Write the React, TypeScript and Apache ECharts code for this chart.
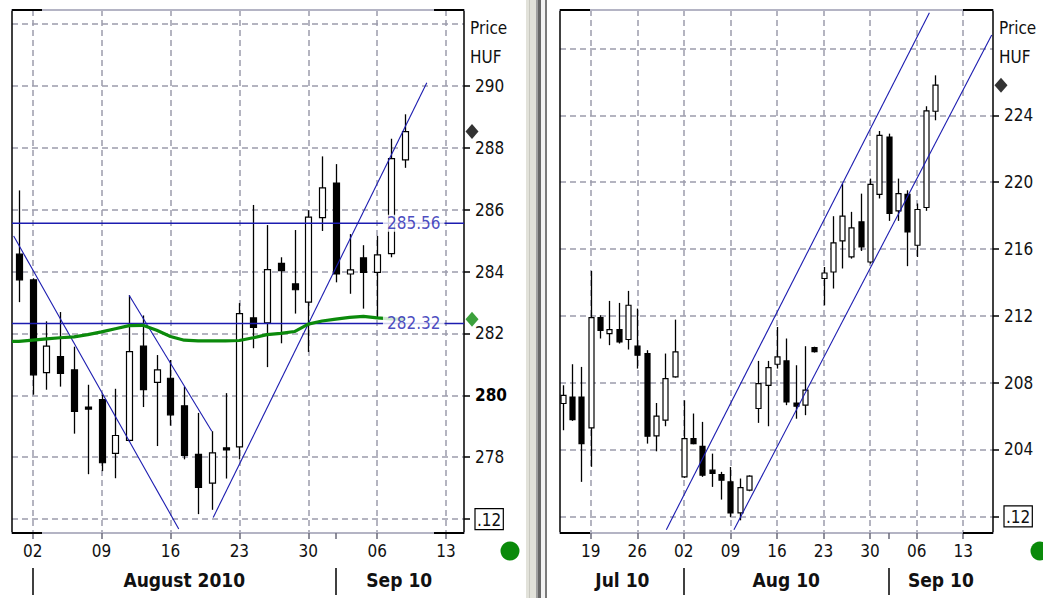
import React, { useEffect, useRef } from 'react';
import * as echarts from 'echarts';

// ================= LEFT PANEL (daily, index 0 = Mon 02 Aug 2010) =================
const leftDays = [-1, 0, 1, 2, 3, 4, 5, 6, 7, 8, 9, 10, 11, 12, 13, 14, 15, 16, 17, 18, 19, 20, 21, 22, 23, 24, 25, 26, 27];
const leftOpen = [284.56, 283.73, 280.73, 281.25, 280.82, 279.62, 279.86, 278.12, 278.54, 281.59, 280.42, 280.55, 279.66, 278.09, 277.16, 278.30, 278.33, 282.50, 282.34, 284.26, 283.60, 283.01, 285.74, 286.86, 283.92, 284.44, 283.97, 284.58, 287.61];
const leftClose = [283.73, 280.66, 281.59, 280.71, 279.48, 279.56, 277.82, 278.70, 281.41, 280.18, 280.82, 279.37, 278.06, 277.02, 278.14, 278.24, 282.64, 282.19, 284.06, 284.03, 283.41, 285.76, 286.70, 283.92, 284.05, 283.97, 284.54, 287.65, 288.52];
const leftLow = [283.01, 280.02, 280.18, 280.28, 278.76, 277.45, 277.55, 277.32, 278.50, 279.62, 278.36, 279.02, 277.93, 276.16, 276.30, 277.31, 277.93, 281.52, 280.91, 281.68, 282.64, 281.40, 285.31, 283.65, 283.28, 282.80, 282.48, 284.46, 287.35];
const leftHigh = [286.62, 283.78, 282.39, 282.69, 281.57, 280.34, 280.02, 280.21, 283.23, 282.58, 281.30, 281.14, 280.28, 279.43, 278.84, 280.07, 282.98, 286.15, 285.50, 284.46, 285.34, 285.98, 287.72, 287.47, 285.21, 284.85, 285.15, 288.29, 289.08];
const leftMA = [281.74, 281.78, 281.82, 281.86, 281.89, 281.96, 282.05, 282.15, 282.25, 282.26, 282.10, 281.90, 281.78, 281.76, 281.76, 281.76, 281.77, 281.86, 281.96, 282.00, 282.06, 282.30, 282.40, 282.46, 282.52, 282.55, 282.50, 282.47, 282.46];
const leftLevels = [285.56, 282.32];
const leftTrendDown1 = [[-1.38, 285.15], [10.6, 275.68]];
const leftTrendDown2 = [[7, 283.23], [13, 278.84]];
const leftTrendUp = [[13.1, 276.05], [28.6, 290.1]];
const leftXTickIdx = [0, 5, 10, 15, 20, 25, 30];
const leftXTickLabels = ['02', '09', '16', '23', '30', '06', '13'];
const leftMonthBounds = [0, 22];
const leftMonthLabels = ['', 'August 2010', 'Sep 10'];
const leftYTicks = [276, 278, 280, 282, 284, 286, 288, 290, 292];
const leftYLabels = ['.12', '278', '280', '282', '284', '286', '288', '290', ''];
const leftYBold = [280];

// ================= RIGHT PANEL (daily, index 0 = Mon 19 Jul 2010) =================
const rightDays = [-3, -2, -1, 0, 1, 2, 3, 4, 5, 6, 7, 8, 9, 10, 11, 12, 13, 14, 15, 16, 17, 18, 19, 20, 21, 22, 23, 24, 25, 26, 27, 28, 29, 30, 31, 32, 33, 34, 35, 36, 37];
const rightOpen = [206.75, 207.14, 207.14, 205.29, 211.89, 210.93, 211.17, 210.58, 210.18, 209.74, 204.81, 205.75, 208.34, 202.36, 204.65, 204.19, 202.76, 202.50, 202.06, 200.20, 201.56, 206.45, 207.84, 209.10, 209.30, 206.78, 206.65, 210.10, 214.23, 214.62, 216.48, 215.52, 217.62, 215.22, 219.27, 222.70, 218.28, 219.27, 216.22, 218.48, 224.24];
const rightClose = [207.24, 205.79, 204.35, 211.89, 211.13, 211.17, 210.44, 212.63, 209.64, 204.79, 205.99, 208.24, 209.84, 204.65, 204.35, 202.46, 202.56, 202.16, 200.20, 201.72, 202.40, 207.94, 208.90, 209.54, 206.84, 206.59, 207.55, 209.86, 214.56, 216.36, 217.96, 217.26, 216.12, 219.87, 222.80, 218.12, 219.31, 217.02, 218.36, 224.26, 225.80];
const rightLow = [205.15, 205.71, 202.06, 202.96, 210.64, 210.24, 210.34, 209.98, 208.84, 204.35, 203.89, 205.39, 208.30, 202.30, 204.31, 202.36, 201.76, 201.00, 199.96, 199.76, 201.50, 205.59, 205.39, 208.84, 206.65, 205.84, 206.05, 209.80, 212.63, 213.63, 214.83, 215.42, 215.88, 215.12, 219.02, 217.68, 217.68, 214.97, 215.52, 218.28, 223.70];
const rightHigh = [207.84, 209.10, 208.94, 214.68, 212.03, 212.89, 212.77, 213.49, 212.43, 209.94, 206.78, 209.74, 211.77, 206.94, 206.15, 205.65, 203.75, 202.66, 202.95, 202.26, 202.45, 209.30, 209.30, 211.33, 210.64, 209.04, 210.18, 210.15, 214.92, 217.96, 219.91, 218.22, 219.31, 220.21, 223.06, 222.90, 220.21, 219.51, 218.72, 224.54, 226.39];
const rightChannelUpper = [[8.12, 199.2], [36.37, 230.13]];
const rightChannelLower = [[15.38, 199.2], [43.06, 228.8]];
const rightXTickIdx = [0, 5, 10, 15, 20, 25, 30, 35, 40];
const rightXTickLabels = ['19', '26', '02', '09', '16', '23', '30', '06', '13'];
const rightMonthBounds = [10, 32];
const rightMonthLabels = ['Jul 10', 'Aug 10', 'Sep 10'];
const rightYTicks = [200, 204, 208, 212, 216, 220, 224, 228];
const rightYLabels = ['.12', '204', '208', '212', '216', '220', '224', ''];
const rightYBold: number[] = [];

// ================= layout =================
const LG = { left: 12, top: 10, width: 452, height: 523 };
const RG = { left: 560, top: 10, width: 433, height: 523 };
const LEFT_X = [-1.5, 31.3];
const LEFT_Y = [275.55, 292.45];
const RIGHT_X = [-3.3, 43.2];
const RIGHT_Y = [199.0, 230.3];
const LEVEL_LABEL_X = 27.65;

const BLUE = '#1c1cb0';
const GREEN = '#0b8a0b';
const GRIDC = '#9c9cac';
const FRAMEC = '#b4b4c4';

function detectFont() {
  try {
    const ctx = document.createElement('canvas').getContext('2d')!;
    const probe = 'Price 0123456789 August';
    const w = (f: string) => { ctx.font = f; return ctx.measureText(probe).width; };
    const reg = w('20px "Liberation Sans"');
    const nar = w('20px "Liberation Sans Narrow", "Liberation Sans"');
    if (nar < reg * 0.9) return { fam: '"Liberation Sans Narrow"', fs: 20, ms: 23 };
    const dj = w('20px "DejaVu Sans"');
    const djc = w('20px "DejaVu Sans Condensed", "DejaVu Sans"');
    if (djc < dj * 0.95) return { fam: '"DejaVu Sans Condensed"', fs: 17, ms: 19 };
  } catch (e) { /* ignore */ }
  return { fam: '"Liberation Sans", Arial, sans-serif', fs: 17, ms: 19 };
}

const near = (a: number, b: number, eps = 1e-6) => Math.abs(a - b) < eps;
function rulerData(min: number, max: number, step: number, dec: number) {
  const n = Math.round((max - min) / step);
  const out: string[] = [];
  for (let k = 0; k <= n; k++) out.push((min + k * step).toFixed(dec));
  return out;
}

function panelAxes(c: any, F: any) {
  const xCats = rulerData(c.xr[0], c.xr[1], 0.1, 1);
  const yCats = rulerData(c.yr[0], c.yr[1], c.yStep, c.yDec);
  const isXTick = (v: string) => c.xTickIdx.some((t: number) => near(t, +v));
  const isBound = (v: string) => c.monthBounds.some((t: number) => near(t, +v));
  const edges = [c.xr[0], ...c.monthBounds, c.xr[1]];
  const mids: { pos: number; text: string }[] = [];
  for (let s = 0; s < edges.length - 1; s++) {
    if (c.monthLabels[s]) mids.push({ pos: Math.round(((edges[s] + edges[s + 1]) / 2) / 0.1) * 0.1, text: c.monthLabels[s] });
  }
  const midOf = (v: string) => mids.find((m) => near(m.pos, +v));
  const yIdx = (v: string) => c.yTicks.findIndex((t: number) => near(t, +v, 1e-4));
  const textBase = { fontFamily: F.fam, fontSize: F.fs, color: '#111' };

  const xAxes = [
    {
      type: 'value', gridIndex: c.grid, min: c.xr[0], max: c.xr[1], position: 'top',
      axisLine: { show: true, onZero: false, lineStyle: { color: FRAMEC, width: 2 } },
      axisTick: { show: false }, axisLabel: { show: false }, splitLine: { show: false },
    },
    {
      type: 'category', gridIndex: c.grid, data: xCats, boundaryGap: false, position: 'bottom',
      axisLine: { show: true, onZero: false, lineStyle: { color: FRAMEC, width: 2 } },
      axisTick: { show: true, interval: (i: number, v: string) => isXTick(v) || isBound(v), length: 6, lineStyle: { color: '#6a6a7a', width: 1.5 } },
      axisLabel: {
        show: true, interval: (i: number, v: string) => isXTick(v), margin: 9, ...textBase,
        formatter: (v: string) => { const j = c.xTickIdx.findIndex((t: number) => near(t, +v)); return j >= 0 ? c.xTickLabels[j] : ''; },
      },
      splitLine: { show: true, interval: (i: number, v: string) => isXTick(v), lineStyle: { color: GRIDC, width: 1.5, type: [6, 4] } },
    },
    {
      type: 'category', gridIndex: c.grid, data: xCats, boundaryGap: false, position: 'bottom', offset: 35,
      axisLine: { show: false, onZero: false },
      axisTick: { show: true, interval: (i: number, v: string) => isBound(v), length: 27, lineStyle: { color: '#000', width: 1.5 } },
      axisLabel: {
        show: true, interval: (i: number, v: string) => !!midOf(v), margin: 2,
        fontFamily: F.fam, fontSize: F.ms, fontWeight: 'bold', color: '#111',
        formatter: (v: string) => { const m = midOf(v); return m ? m.text : ''; },
      },
      splitLine: { show: false },
    },
  ];

  const yAxes = [
    {
      type: 'value', gridIndex: c.grid, min: c.yr[0], max: c.yr[1], position: 'left',
      axisLine: { show: true, onZero: false, lineStyle: { color: '#000', width: 1.5 } },
      axisTick: { show: false }, axisLabel: { show: false }, splitLine: { show: false },
    },
    {
      type: 'category', gridIndex: c.grid, data: yCats, boundaryGap: false, position: 'right',
      axisLine: { show: true, onZero: false, lineStyle: { color: '#000', width: 1.5 } },
      axisTick: { show: true, interval: (i: number, v: string) => { const j = yIdx(v); return j >= 0 && c.yLabels[j] !== ''; }, length: 6, lineStyle: { color: '#000', width: 1.5 } },
      axisLabel: {
        show: true, interval: (i: number, v: string) => yIdx(v) >= 0, margin: 11, ...textBase,
        formatter: (v: string) => {
          const j = yIdx(v);
          if (j < 0) return '';
          const t = c.yLabels[j];
          if (t === '') return '';
          if (t === '.12') return '{box|.12}';
          if (c.yBold.some((b: number) => near(b, c.yTicks[j]))) return '{b|' + t + '}';
          return t;
        },
        rich: {
          box: { fontFamily: F.fam, fontSize: F.fs, color: '#111', borderColor: '#000', borderWidth: 1.2, padding: [3, 2, 1, 2] },
          b: { fontFamily: F.fam, fontSize: F.fs, color: '#000', fontWeight: 'bold' },
        },
      },
      splitLine: { show: true, interval: (i: number, v: string) => yIdx(v) >= 0, lineStyle: { color: GRIDC, width: 1.5, type: [6, 4] } },
    },
  ];
  return { xAxes, yAxes };
}

function candleSeries(xi: number, yi: number, days: number[], o: number[], cl: number[], lo: number[], hi: number[], bw: number) {
  return {
    type: 'custom', xAxisIndex: xi, yAxisIndex: yi, z: 3, silent: true,
    encode: { x: 0, y: [1, 2, 3, 4] },
    data: days.map((d, i) => [d, o[i], cl[i], lo[i], hi[i]]),
    renderItem: (params: any, api: any) => {
      const x = api.value(0);
      const op = api.value(1), cp = api.value(2), lp = api.value(3), hp = api.value(4);
      const pO = api.coord([x, op]);
      const pC = api.coord([x, cp]);
      const pL = api.coord([x, lp]);
      const pH = api.coord([x, hp]);
      const cx = Math.round(pO[0]) + 0.5;
      const top = Math.min(pO[1], pC[1]);
      const bot = Math.max(pO[1], pC[1]);
      const up = cp > op;
      return {
        type: 'group',
        children: [
          { type: 'line', shape: { x1: cx, y1: pH[1], x2: cx, y2: pL[1] }, style: { stroke: '#000', lineWidth: 1.3 } },
          { type: 'rect', shape: { x: cx - bw / 2, y: top, width: bw, height: Math.max(bot - top, 2) }, style: { fill: up ? '#fff' : '#000', stroke: '#000', lineWidth: 1.2 } },
        ],
      };
    },
  };
}

function lineSeries(xi: number, yi: number, data: number[][], color: string, width: number, z = 4) {
  return {
    type: 'line', xAxisIndex: xi, yAxisIndex: yi, data, symbol: 'none', showSymbol: false,
    lineStyle: { color, width }, itemStyle: { color }, silent: true, z, clip: true,
  };
}

function buildOption() {
  const F = detectFont();
  const L = panelAxes({ grid: 0, xr: LEFT_X, yr: LEFT_Y, yStep: 0.05, yDec: 2, xTickIdx: leftXTickIdx, xTickLabels: leftXTickLabels, monthBounds: leftMonthBounds, monthLabels: leftMonthLabels, yTicks: leftYTicks, yLabels: leftYLabels, yBold: leftYBold }, F);
  const R = panelAxes({ grid: 1, xr: RIGHT_X, yr: RIGHT_Y, yStep: 0.1, yDec: 1, xTickIdx: rightXTickIdx, xTickLabels: rightXTickLabels, monthBounds: rightMonthBounds, monthLabels: rightMonthLabels, yTicks: rightYTicks, yLabels: rightYLabels, yBold: rightYBold }, F);
  // axis indices: left x data 0, right x data 3; left y data 0, right y data 2
  const lastL = leftClose[leftClose.length - 1];
  const lastR = rightClose[rightClose.length - 1];
  const lastMA = leftMA[leftMA.length - 1];
  const maData = [[LEFT_X[0], leftMA[0]], ...leftDays.map((d, i) => [d, leftMA[i]])];

  const series: any[] = [
    candleSeries(0, 0, leftDays, leftOpen, leftClose, leftLow, leftHigh, 6),
    ...leftLevels.map((v) => lineSeries(0, 0, [[LEFT_X[0], v], [LEFT_X[1], v]], BLUE, 1.6, 4)),
    lineSeries(0, 0, leftTrendDown1, BLUE, 1.1, 4),
    lineSeries(0, 0, leftTrendDown2, BLUE, 1.1, 4),
    lineSeries(0, 0, leftTrendUp, BLUE, 1.1, 4),
    lineSeries(0, 0, maData, GREEN, 3.2, 5),
    {
      type: 'scatter', xAxisIndex: 0, yAxisIndex: 0, silent: true, z: 6,
      data: leftLevels.map((v) => [LEVEL_LABEL_X, v]),
      symbol: 'circle', symbolSize: 1, itemStyle: { color: 'transparent' },
      label: {
        show: true, position: 'inside', formatter: (p: any) => p.value[1].toFixed(2),
        color: BLUE, backgroundColor: '#fff', padding: [0, 4], fontFamily: F.fam, fontSize: F.fs,
      },
    },
    {
      type: 'scatter', xAxisIndex: 0, yAxisIndex: 0, silent: true, z: 7, clip: false,
      data: [[LEFT_X[1], lastL]], symbol: 'diamond', symbolSize: [13, 15], symbolOffset: [8, 0], itemStyle: { color: '#000' },
    },
    {
      type: 'scatter', xAxisIndex: 0, yAxisIndex: 0, silent: true, z: 7, clip: false,
      data: [[LEFT_X[1], lastMA]], symbol: 'diamond', symbolSize: [13, 15], symbolOffset: [8, 0], itemStyle: { color: GREEN },
    },
    candleSeries(3, 2, rightDays, rightOpen, rightClose, rightLow, rightHigh, 5),
    lineSeries(3, 2, rightChannelUpper, BLUE, 1.1, 4),
    lineSeries(3, 2, rightChannelLower, BLUE, 1.1, 4),
    {
      type: 'scatter', xAxisIndex: 3, yAxisIndex: 2, silent: true, z: 7, clip: false,
      data: [[RIGHT_X[1], lastR]], symbol: 'diamond', symbolSize: [13, 15], symbolOffset: [8, 0], itemStyle: { color: '#000' },
    },
  ];

  const corner = (g: any) => {
    const x1 = g.left, x2 = g.left + g.width, y1 = g.top, y2 = g.top + g.height;
    const st = { stroke: '#000', lineWidth: 2 };
    return [
      { type: 'line', shape: { x1, y1, x2: x1 + 30, y2: y1 }, style: st, z: 100 },
      { type: 'line', shape: { x1, y1: y2, x2: x1 + 30, y2 }, style: st, z: 100 },
      { type: 'line', shape: { x1: x2 - 30, y1, x2, y2: y1 }, style: st, z: 100 },
      { type: 'line', shape: { x1: x2 - 30, y1: y2, x2, y2 }, style: st, z: 100 },
    ];
  };
  const titles = (g: any) => {
    const x = g.left + g.width + 6;
    const st = { fontFamily: F.fam, fontSize: F.fs, fill: '#111', verticalAlign: 'middle' };
    return [
      { type: 'text', x, y: 28, style: { ...st, text: 'Price' } },
      { type: 'text', x, y: 57, style: { ...st, text: 'HUF' } },
    ];
  };
  const graphic: any[] = [
    ...corner(LG), ...corner(RG), ...titles(LG), ...titles(RG),
    { type: 'circle', shape: { cx: LG.left + LG.width + 46, cy: 551, r: 9.5 }, style: { fill: '#0a8a0a' } },
    { type: 'circle', shape: { cx: RG.left + RG.width + 47, cy: 551, r: 9.5 }, style: { fill: '#0a8a0a' } },
    { type: 'rect', shape: { x: 526, y: 0, width: 10, height: 598 }, style: { fill: '#e2e2da' } },
    { type: 'rect', shape: { x: 529, y: 0, width: 1, height: 598 }, style: { fill: '#c8c8c0' } },
    { type: 'rect', shape: { x: 536, y: 0, width: 2, height: 598 }, style: { fill: '#a0a0a0' } },
    { type: 'rect', shape: { x: 538, y: 0, width: 3, height: 598 }, style: { fill: '#686868' } },
    { type: 'rect', shape: { x: 541, y: 0, width: 4, height: 598 }, style: { fill: '#f2f2f2' } },
    { type: 'rect', shape: { x: 545, y: 0, width: 2, height: 598 }, style: { fill: '#7a7a7a' } },
  ];

  return {
    animation: false,
    backgroundColor: '#fff',
    grid: [
      { left: LG.left, top: LG.top, width: LG.width, height: LG.height },
      { left: RG.left, top: RG.top, width: RG.width, height: RG.height },
    ],
    xAxis: [...L.xAxes, ...R.xAxes],
    yAxis: [...L.yAxes, ...R.yAxes],
    series,
    graphic,
  };
}

export default function App() {
  const ref = useRef<HTMLDivElement>(null);
  useEffect(() => {
    if (!ref.current) return;
    const chart = echarts.init(ref.current, null, { renderer: 'svg' });
    chart.setOption(buildOption() as any);
    return () => chart.dispose();
  }, []);
  return <div ref={ref} style={{ position: 'fixed', left: 0, top: 0, width: 1043, height: 598, background: '#fff' }} />;
}
